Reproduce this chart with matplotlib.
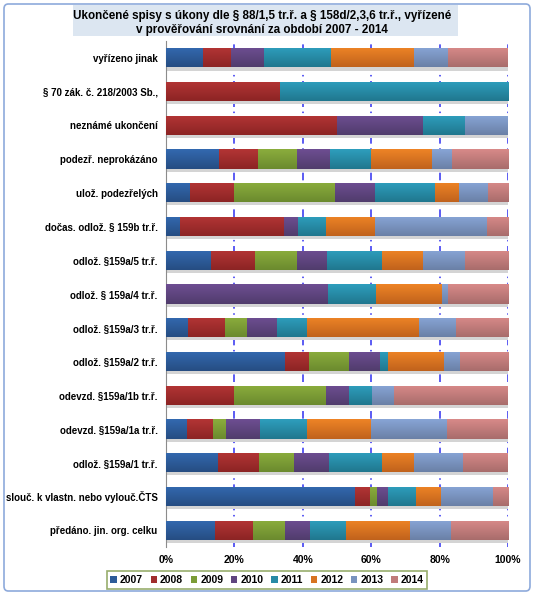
"""
Ukončené spisy – 100% stacked horizontal bars by year (2007-2014).
Output: out.png
"""

import matplotlib.pyplot as plt
import numpy as np
from matplotlib.colors import LinearSegmentedColormap
from matplotlib.patches import FancyBboxPatch, Rectangle

plt.rcParams['font.family'] = ['Liberation Sans', 'DejaVu Sans']

TITLE = ("Ukončené spisy s úkony dle § 88/1,5 tr.ř. a § 158d/2,3,6 tr.ř., vyřízené\n"
         "v prověřování srovnání za období 2007 - 2014")

CATEGORIES = [
    "vyřízeno jinak",
    "§ 70 zák. č. 218/2003 Sb.,",
    "neznámé ukončení",
    "podezř. neprokázáno",
    "ulož. podezřelých",
    "dočas. odlož. § 159b tr.ř.",
    "odlož. §159a/5 tr.ř.",
    "odlož. § 159a/4 tr.ř.",
    "odlož. §159a/3 tr.ř.",
    "odlož. §159a/2 tr.ř.",
    "odevzd. §159a/1b tr.ř.",
    "odevzd. §159a/1a tr.ř.",
    "odlož. §159a/1 tr.ř.",
    "slouč. k vlastn. nebo vylouč.ČTS",
    "předáno. jin. org. celku",
]

YEARS = ["2007", "2008", "2009", "2010", "2011", "2012", "2013", "2014"]

# share (%) of each year, one list per year, in category order
Y2007 = [10.9, 0, 0, 15.5, 7.0, 4.1, 13.1, 0, 6.4, 34.8, 0, 6.1, 15.2, 55.2, 14.3]
Y2008 = [8.1, 33.3, 50.0, 11.4, 12.9, 30.4, 12.9, 0, 10.8, 7.0, 20.0, 7.6, 12.0, 4.4, 11.1]
Y2009 = [0, 0, 0, 11.4, 29.5, 0, 12.3, 0, 6.4, 11.7, 26.7, 3.8, 10.2, 2.0, 9.3]
Y2010 = [9.6, 0, 25.0, 9.6, 11.7, 4.1, 8.8, 47.3, 8.8, 9.1, 6.7, 9.9, 10.2, 3.2, 7.3]
Y2011 = [19.6, 66.7, 12.5, 12.0, 17.5, 8.2, 16.1, 14.0, 8.8, 2.3, 6.7, 13.7, 15.5, 8.2, 10.5]
Y2012 = [24.2, 0, 0, 17.8, 7.0, 14.3, 12.0, 19.3, 32.7, 16.4, 0, 18.7, 9.3, 7.3, 18.7]
Y2013 = [10.2, 0, 12.5, 5.8, 8.5, 32.7, 12.3, 1.8, 10.8, 4.7, 6.7, 22.5, 14.4, 15.2, 12.0]
Y2014 = [17.3, 0, 0, 16.5, 5.9, 6.2, 12.7, 17.6, 15.3, 14.1, 33.3, 17.6, 13.1, 4.5, 16.7]

SERIES = [Y2007, Y2008, Y2009, Y2010, Y2011, Y2012, Y2013, Y2014]
# (top, bottom) of the vertical gradient, mid colour used for the legend
TOPS = ["#3369b0", "#b33535", "#8bad3d", "#6e4e92", "#2e9ebd", "#ee8426", "#88a5d6", "#d88a89"]
BOTS = ["#264d82", "#8c2424", "#6b8a2e", "#503c6c", "#20778e", "#c0621c", "#6a80a6", "#a86c6b"]
MIDS = ["#2d5b99", "#a02d2d", "#7b9c36", "#5f457f", "#278aa6", "#d77321", "#7993be", "#c07b7a"]

W, H, DPI = 534, 595, 100
BAR_H = 0.57


def main():
    fig = plt.figure(figsize=(W / DPI, H / DPI), dpi=DPI)

    # outer rounded frame (outline only, on top)
    fig.patches.append(FancyBboxPatch((4 / W, 4 / H), 526 / W, 587 / H,
                                      boxstyle="round,pad=0,rounding_size=0.008",
                                      transform=fig.transFigure, facecolor="none",
                                      edgecolor="#8eaadb", lw=1.2, zorder=10))
    # title background
    fig.patches.append(Rectangle((73 / W, (H - 36) / H), 385 / W, 31 / H,
                                 transform=fig.transFigure, facecolor="#dce6f1",
                                 edgecolor="none", zorder=-1))
    fig.text(262 / W, (H - 23) / H, TITLE, ha="center", va="center",
             fontsize=8.4, fontweight="bold", linespacing=1.25, zorder=2)

    ax = fig.add_axes([166 / W, (H - 547) / H, 342 / W, 506 / H])
    y = np.arange(len(CATEGORIES))

    # soft shadow under every bar
    totals = np.sum(np.asarray(SERIES, dtype=float), axis=0)
    ax.barh(y + 0.09, totals + 0.6, height=BAR_H, color="#d4d4d4", zorder=2)

    grad = np.linspace(0, 1, 64).reshape(-1, 1)
    left = np.zeros(len(CATEGORIES))
    for i, (year, vals) in enumerate(zip(YEARS, SERIES)):
        v = np.asarray(vals, dtype=float)
        bars = ax.barh(y, v, left=left, height=BAR_H, color=MIDS[i], label=year,
                       zorder=3, lw=0)
        cmap = LinearSegmentedColormap.from_list(year, [TOPS[i], BOTS[i]])
        for b in bars:
            if b.get_width() <= 0:
                continue
            x0, y0 = b.get_x(), b.get_y()
            im = ax.imshow(grad, cmap=cmap, aspect="auto", origin="upper",
                           extent=(x0, x0 + b.get_width(), y0 + b.get_height(), y0),
                           zorder=4, interpolation="bilinear")
            im.set_clip_path(b)
        left += v

    ax.set_xlim(0, 100)
    ax.set_ylim(len(CATEGORIES) - 0.5, -0.5)
    ax.set_xticks(np.arange(0, 101, 20))
    ax.set_xticklabels([f"{t}%" for t in range(0, 101, 20)],
                       fontsize=7.5, fontweight="bold")
    ax.set_yticks(y)
    ax.set_yticklabels(CATEGORIES, fontsize=7, fontweight="bold")
    ax.tick_params(axis="both", length=0)
    ax.tick_params(axis="x", pad=6)
    ax.tick_params(axis="y", pad=6)
    for t in range(20, 101, 20):
        ax.axvline(t, color="#2f2ff0", lw=1.1, ls=(0, (5, 3, 1, 3)), zorder=1)
    for side in ("top", "right", "bottom"):
        ax.spines[side].set_visible(False)
    ax.spines["left"].set_color("#8c8c8c")
    ax.patch.set_alpha(0)

    leg = fig.legend(loc="center", bbox_to_anchor=(267 / W, (H - 580) / H),
                     ncol=8, frameon=True, fancybox=False,
                     handlelength=0.6, handleheight=0.6, handletextpad=0.3,
                     columnspacing=0.75, borderpad=0.35,
                     prop={"weight": "bold", "size": 7.5})
    leg.get_frame().set_edgecolor("#7f9a48")
    leg.get_frame().set_linewidth(1.2)

    fig.savefig("out.png", dpi=DPI)


if __name__ == "__main__":
    main()
